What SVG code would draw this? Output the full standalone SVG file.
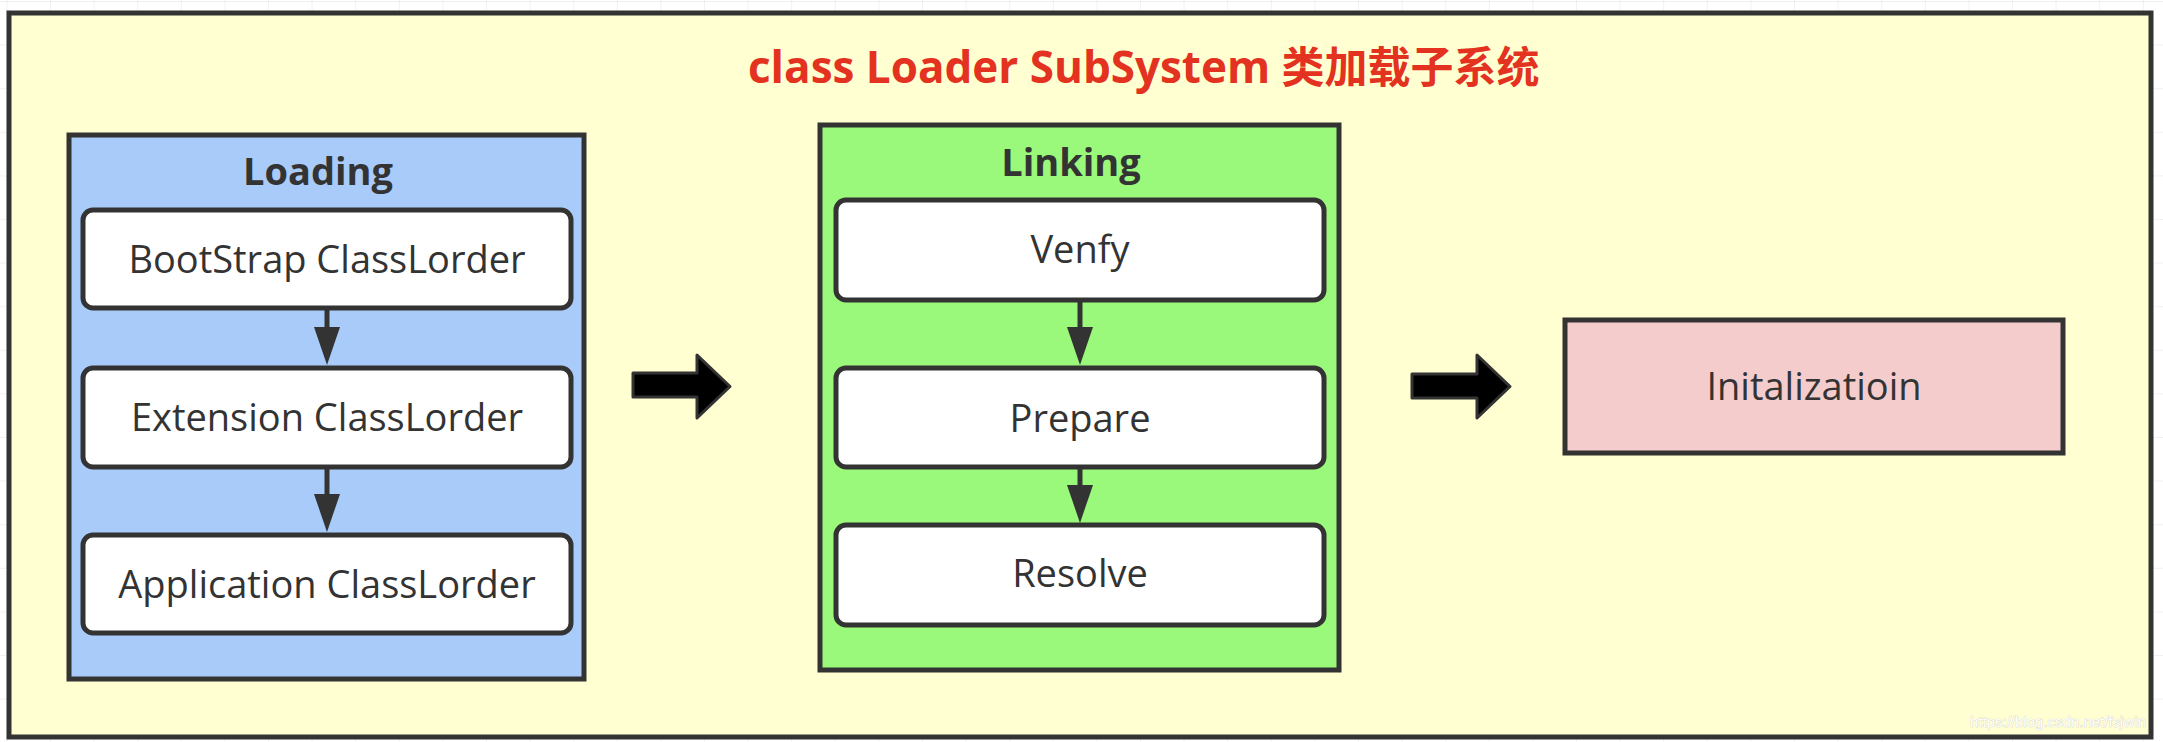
<svg xmlns="http://www.w3.org/2000/svg" width="2163" height="742" viewBox="0 0 2163 742">
<style>
.box{fill:#ffffff;stroke:#333333;stroke-width:5}
.lbl{font-family:"Open Sans","Noto Sans",sans-serif;font-size:38px;fill:#333333;text-anchor:middle}
.ttl{font-family:"Open Sans","Noto Sans",sans-serif;font-size:38px;font-weight:bold;fill:#333333;text-anchor:middle}
.conn{stroke:#333333;stroke-width:5;fill:none}
.block{fill:#000000;stroke:#333333;stroke-width:3;stroke-linejoin:round}
</style>
<defs>
<pattern id="grid" x="6.4" y="1" width="43.6" height="43.6" patternUnits="userSpaceOnUse">
<path d="M0,0 H43.6 M0,0 V43.6" stroke="#e4e4e4" stroke-width="1" fill="none"/>
</pattern>
<marker id="ah" viewBox="0 0 38 26" refX="0" refY="13" markerWidth="38" markerHeight="26" markerUnits="userSpaceOnUse" orient="auto">
<path d="M0,0 L38,13 L0,26 Z" fill="#333333"/>
</marker>
</defs>
<rect x="0" y="0" width="2163" height="742" fill="#ffffff"/>
<rect x="0" y="0" width="2163" height="742" fill="url(#grid)"/>
<g id="frame">
<rect x="9" y="13" width="2142" height="724" fill="#ffffd1" stroke="#333333" stroke-width="5"/>
<text x="748" y="83" font-family="'Open Sans','Noto Sans','Noto Sans CJK SC',sans-serif" font-size="44" font-weight="bold" fill="#e3321f">class Loader SubSystem <tspan font-family="'Noto Sans CJK SC',sans-serif" font-size="43">类加载子系统</tspan></text>
</g>
<g id="loading">
<rect x="69" y="135" width="515" height="544" fill="#a9cbf9" stroke="#333333" stroke-width="5"/>
<text class="ttl" x="318" y="185">Loading</text>
</g>
<g id="bootstrap">
<rect class="box" x="83" y="210" width="488" height="98" rx="10"/>
<text class="lbl" x="327" y="273">BootStrap ClassLorder</text>
</g>
<g id="extension">
<rect class="box" x="83" y="368" width="488" height="99" rx="10"/>
<text class="lbl" x="327" y="431">Extension ClassLorder</text>
</g>
<g id="application">
<rect class="box" x="83" y="535" width="488" height="98" rx="10"/>
<text class="lbl" x="327" y="598">Application ClassLorder</text>
</g>
<g id="linking">
<rect x="820" y="125" width="519" height="545" fill="#9af97b" stroke="#333333" stroke-width="5"/>
<text class="ttl" x="1071" y="176">Linking</text>
</g>
<g id="verify">
<rect class="box" x="836" y="200" width="488" height="100" rx="10"/>
<text class="lbl" x="1080" y="263">Venfy</text>
</g>
<g id="prepare">
<rect class="box" x="836" y="368" width="488" height="99" rx="10"/>
<text class="lbl" x="1080" y="432">Prepare</text>
</g>
<g id="resolve">
<rect class="box" x="836" y="525" width="488" height="100" rx="10"/>
<text class="lbl" x="1080" y="587">Resolve</text>
</g>
<g id="initialization">
<rect x="1565" y="320" width="498" height="133" fill="#f4cccc" stroke="#333333" stroke-width="5"/>
<text class="lbl" x="1814" y="400">Initalizatioin</text>
</g>
<g id="connectors">
<line class="conn" x1="327" y1="308" x2="327" y2="327" marker-end="url(#ah)"/>
<line class="conn" x1="327" y1="467" x2="327" y2="494" marker-end="url(#ah)"/>
<line class="conn" x1="1080" y1="300" x2="1080" y2="327" marker-end="url(#ah)"/>
<line class="conn" x1="1080" y1="467" x2="1080" y2="485" marker-end="url(#ah)"/>
<polygon class="block" points="633,373 697,373 697,355 730,386.5 697,418 697,397 633,397"/>
<polygon class="block" points="1412,374 1477,374 1477,355 1510,386.5 1477,418 1477,398 1412,398"/>
</g>
<text x="1970" y="727" font-family="'Liberation Sans',Arial,sans-serif" font-size="15" fill="#ffffff" stroke="#c8c8c8" stroke-width="0.6" paint-order="stroke">https://blog.csdn.net/fsjwin</text>
</svg>
